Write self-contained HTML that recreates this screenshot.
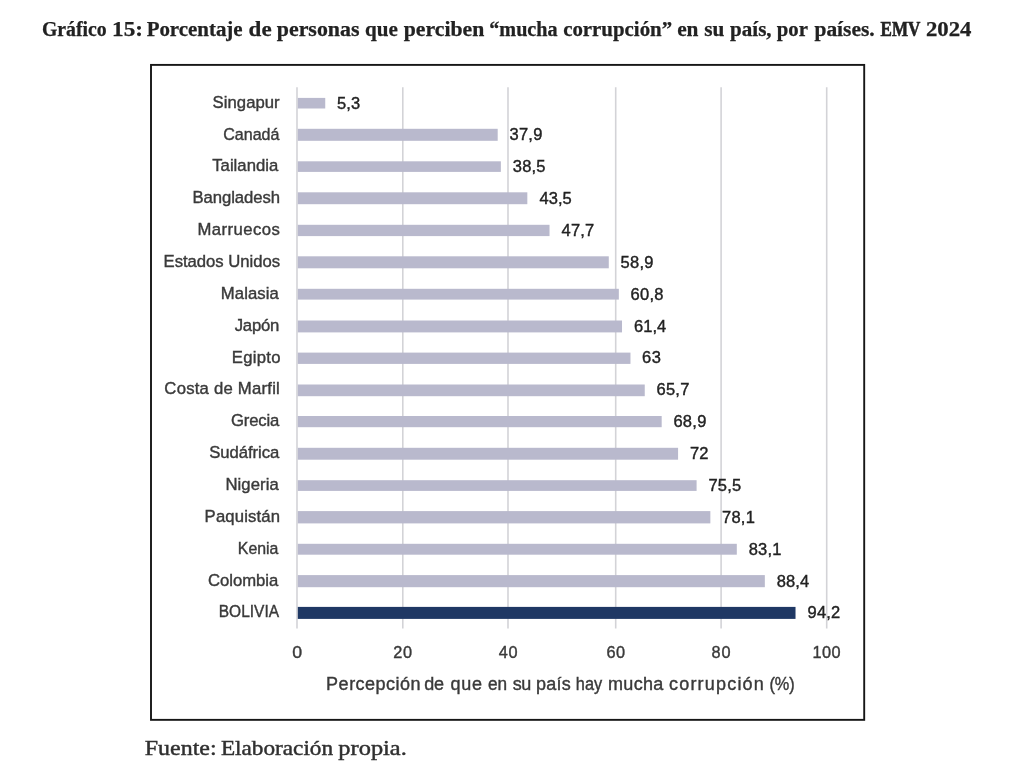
<!DOCTYPE html>
<html lang="es"><head><meta charset="utf-8"><title>Gráfico 15</title>
<style>html,body{margin:0;padding:0;background:#fff;}body{width:1024px;height:778px;overflow:hidden;font-family:"Liberation Sans",sans-serif;}svg{display:block;will-change:transform;}text{white-space:pre;}</style></head><body>
<svg width="1024" height="778" viewBox="0 0 1024 778">
<rect x="0" y="0" width="1024" height="778" fill="#ffffff"/>
<rect x="151" y="64.9" width="713.2" height="654.95" fill="#ffffff" stroke="#161616" stroke-width="1.9"/>
<line x1="297.00" y1="87.3" x2="297.00" y2="628.6" stroke="#d3d3d7" stroke-width="1.6"/>
<line x1="402.80" y1="87.3" x2="402.80" y2="628.6" stroke="#d3d3d7" stroke-width="1.6"/>
<line x1="508.00" y1="87.3" x2="508.00" y2="628.6" stroke="#d3d3d7" stroke-width="1.6"/>
<line x1="615.70" y1="87.3" x2="615.70" y2="628.6" stroke="#d3d3d7" stroke-width="1.6"/>
<line x1="721.10" y1="87.3" x2="721.10" y2="628.6" stroke="#d3d3d7" stroke-width="1.6"/>
<line x1="826.70" y1="87.3" x2="826.70" y2="628.6" stroke="#d3d3d7" stroke-width="1.6"/>
<rect x="297.80" y="97.90" width="27.44" height="10.60" fill="#b9b9cd"/>
<rect x="297.80" y="128.80" width="199.89" height="12.00" fill="#b9b9cd"/>
<rect x="297.80" y="161.30" width="203.06" height="10.60" fill="#b9b9cd"/>
<rect x="297.80" y="192.30" width="229.52" height="11.90" fill="#b9b9cd"/>
<rect x="297.80" y="224.80" width="251.73" height="11.30" fill="#b9b9cd"/>
<rect x="297.80" y="256.30" width="310.98" height="12.00" fill="#b9b9cd"/>
<rect x="297.80" y="288.80" width="321.03" height="10.80" fill="#b9b9cd"/>
<rect x="297.80" y="320.50" width="324.21" height="11.90" fill="#b9b9cd"/>
<rect x="297.80" y="352.60" width="332.67" height="11.30" fill="#b9b9cd"/>
<rect x="297.80" y="384.50" width="346.95" height="11.70" fill="#b9b9cd"/>
<rect x="297.80" y="416.00" width="363.88" height="11.20" fill="#b9b9cd"/>
<rect x="297.80" y="447.80" width="380.28" height="11.90" fill="#b9b9cd"/>
<rect x="297.80" y="480.20" width="398.80" height="10.70" fill="#b9b9cd"/>
<rect x="297.80" y="511.10" width="412.55" height="12.30" fill="#b9b9cd"/>
<rect x="297.80" y="543.80" width="439.00" height="10.90" fill="#b9b9cd"/>
<rect x="297.80" y="575.10" width="467.04" height="12.10" fill="#b9b9cd"/>
<rect x="297.80" y="606.90" width="497.72" height="12.00" fill="#1f3864"/>
<text id="c0" x="212.62" y="107.70" font-family="Liberation Sans" font-size="16.7" stroke="#3a3a3a" stroke-width="0.4" fill="#3a3a3a" textLength="66.98" lengthAdjust="spacing">Singapur</text>
<text id="v0" x="336.89" y="108.60" font-family="Liberation Sans" font-size="16.5" stroke="#222222" stroke-width="0.4" fill="#222222" textLength="23.41" lengthAdjust="spacing">5,3</text>
<text id="c1" x="223.21" y="139.56" font-family="Liberation Sans" font-size="16.7" stroke="#3a3a3a" stroke-width="0.4" fill="#3a3a3a" textLength="56.26" lengthAdjust="spacingAndGlyphs">Canadá</text>
<text id="v1" x="509.47" y="140.46" font-family="Liberation Sans" font-size="16.5" stroke="#222222" stroke-width="0.4" fill="#222222" textLength="32.86" lengthAdjust="spacing">37,9</text>
<text id="c2" x="212.21" y="171.42" font-family="Liberation Sans" font-size="16.7" stroke="#3a3a3a" stroke-width="0.4" fill="#3a3a3a" textLength="66.07" lengthAdjust="spacing">Tailandia</text>
<text id="v2" x="512.75" y="172.32" font-family="Liberation Sans" font-size="16.5" stroke="#222222" stroke-width="0.4" fill="#222222" textLength="32.78" lengthAdjust="spacing">38,5</text>
<text id="c3" x="192.44" y="203.28" font-family="Liberation Sans" font-size="16.7" stroke="#3a3a3a" stroke-width="0.4" fill="#3a3a3a" textLength="87.50" lengthAdjust="spacing">Bangladesh</text>
<text id="v3" x="539.49" y="204.18" font-family="Liberation Sans" font-size="16.5" stroke="#222222" stroke-width="0.4" fill="#222222" textLength="32.22" lengthAdjust="spacing">43,5</text>
<text id="c4" x="197.44" y="235.14" font-family="Liberation Sans" font-size="16.7" stroke="#3a3a3a" stroke-width="0.4" fill="#3a3a3a" textLength="82.42" lengthAdjust="spacing">Marruecos</text>
<text id="v4" x="561.60" y="236.04" font-family="Liberation Sans" font-size="16.5" stroke="#222222" stroke-width="0.4" fill="#222222" textLength="32.53" lengthAdjust="spacing">47,7</text>
<text id="c5" x="163.52" y="267.00" font-family="Liberation Sans" font-size="16.7" stroke="#3a3a3a" stroke-width="0.4" fill="#3a3a3a" textLength="116.52" lengthAdjust="spacing">Estados Unidos</text>
<text id="v5" x="620.54" y="267.90" font-family="Liberation Sans" font-size="16.5" stroke="#222222" stroke-width="0.4" fill="#222222" textLength="32.94" lengthAdjust="spacing">58,9</text>
<text id="c6" x="220.84" y="298.86" font-family="Liberation Sans" font-size="16.7" stroke="#3a3a3a" stroke-width="0.4" fill="#3a3a3a" textLength="57.94" lengthAdjust="spacing">Malasia</text>
<text id="v6" x="630.61" y="299.76" font-family="Liberation Sans" font-size="16.5" stroke="#222222" stroke-width="0.4" fill="#222222" textLength="32.85" lengthAdjust="spacing">60,8</text>
<text id="c7" x="234.76" y="330.72" font-family="Liberation Sans" font-size="16.7" stroke="#3a3a3a" stroke-width="0.4" fill="#3a3a3a" textLength="44.47" lengthAdjust="spacing">Japón</text>
<text id="v7" x="633.92" y="331.62" font-family="Liberation Sans" font-size="16.5" stroke="#222222" stroke-width="0.4" fill="#222222" textLength="32.34" lengthAdjust="spacing">61,4</text>
<text id="c8" x="231.84" y="362.58" font-family="Liberation Sans" font-size="16.7" stroke="#3a3a3a" stroke-width="0.4" fill="#3a3a3a" textLength="48.58" lengthAdjust="spacing">Egipto</text>
<text id="v8" x="642.03" y="363.48" font-family="Liberation Sans" font-size="16.5" stroke="#222222" stroke-width="0.4" fill="#222222" textLength="18.88" lengthAdjust="spacing">63</text>
<text id="c9" x="164.36" y="394.44" font-family="Liberation Sans" font-size="16.7" stroke="#3a3a3a" stroke-width="0.4" fill="#3a3a3a" textLength="115.43" lengthAdjust="spacing">Costa de Marfil</text>
<text id="v9" x="656.59" y="395.34" font-family="Liberation Sans" font-size="16.5" stroke="#222222" stroke-width="0.4" fill="#222222" textLength="32.75" lengthAdjust="spacing">65,7</text>
<text id="c10" x="231.07" y="426.30" font-family="Liberation Sans" font-size="16.7" stroke="#3a3a3a" stroke-width="0.4" fill="#3a3a3a" textLength="48.22" lengthAdjust="spacing">Grecia</text>
<text id="v10" x="673.41" y="427.20" font-family="Liberation Sans" font-size="16.5" stroke="#222222" stroke-width="0.4" fill="#222222" textLength="32.91" lengthAdjust="spacing">68,9</text>
<text id="c11" x="209.13" y="458.16" font-family="Liberation Sans" font-size="16.7" stroke="#3a3a3a" stroke-width="0.4" fill="#3a3a3a" textLength="70.15" lengthAdjust="spacing">Sudáfrica</text>
<text id="v11" x="690.04" y="459.06" font-family="Liberation Sans" font-size="16.5" stroke="#222222" stroke-width="0.4" fill="#222222" textLength="18.41" lengthAdjust="spacing">72</text>
<text id="c12" x="225.44" y="490.02" font-family="Liberation Sans" font-size="16.7" stroke="#3a3a3a" stroke-width="0.4" fill="#3a3a3a" textLength="53.33" lengthAdjust="spacing">Nigeria</text>
<text id="v12" x="708.39" y="490.92" font-family="Liberation Sans" font-size="16.5" stroke="#222222" stroke-width="0.4" fill="#222222" textLength="32.72" lengthAdjust="spacing">75,5</text>
<text id="c13" x="204.60" y="521.88" font-family="Liberation Sans" font-size="16.7" stroke="#3a3a3a" stroke-width="0.4" fill="#3a3a3a" textLength="75.34" lengthAdjust="spacing">Paquistán</text>
<text id="v13" x="722.10" y="522.78" font-family="Liberation Sans" font-size="16.5" stroke="#222222" stroke-width="0.4" fill="#222222" textLength="32.75" lengthAdjust="spacing">78,1</text>
<text id="c14" x="237.80" y="553.74" font-family="Liberation Sans" font-size="16.7" stroke="#3a3a3a" stroke-width="0.4" fill="#3a3a3a" textLength="40.60" lengthAdjust="spacingAndGlyphs">Kenia</text>
<text id="v14" x="748.69" y="554.64" font-family="Liberation Sans" font-size="16.5" stroke="#222222" stroke-width="0.4" fill="#222222" textLength="32.70" lengthAdjust="spacing">83,1</text>
<text id="c15" x="207.92" y="585.60" font-family="Liberation Sans" font-size="16.7" stroke="#3a3a3a" stroke-width="0.4" fill="#3a3a3a" textLength="70.35" lengthAdjust="spacing">Colombia</text>
<text id="v15" x="776.79" y="586.50" font-family="Liberation Sans" font-size="16.5" stroke="#222222" stroke-width="0.4" fill="#222222" textLength="32.39" lengthAdjust="spacing">88,4</text>
<text id="c16" x="218.77" y="617.46" font-family="Liberation Sans" font-size="16.7" stroke="#3a3a3a" stroke-width="0.4" fill="#3a3a3a" textLength="60.30" lengthAdjust="spacingAndGlyphs">BOLIVIA</text>
<text id="v16" x="807.58" y="618.36" font-family="Liberation Sans" font-size="16.5" stroke="#222222" stroke-width="0.4" fill="#222222" textLength="32.54" lengthAdjust="spacing">94,2</text>
<text id="t0" x="292.24" y="657.80" font-family="Liberation Sans" font-size="16.3" stroke="#3a3a3a" stroke-width="0.4" fill="#3a3a3a" textLength="9.85" lengthAdjust="spacingAndGlyphs">0</text>
<text id="t1" x="393.17" y="657.80" font-family="Liberation Sans" font-size="16.3" stroke="#3a3a3a" stroke-width="0.4" fill="#3a3a3a" textLength="18.99" lengthAdjust="spacing">20</text>
<text id="t2" x="498.85" y="657.80" font-family="Liberation Sans" font-size="16.3" stroke="#3a3a3a" stroke-width="0.4" fill="#3a3a3a" textLength="18.65" lengthAdjust="spacing">40</text>
<text id="t3" x="606.38" y="657.80" font-family="Liberation Sans" font-size="16.3" stroke="#3a3a3a" stroke-width="0.4" fill="#3a3a3a" textLength="18.66" lengthAdjust="spacing">60</text>
<text id="t4" x="711.59" y="657.80" font-family="Liberation Sans" font-size="16.3" stroke="#3a3a3a" stroke-width="0.4" fill="#3a3a3a" textLength="18.98" lengthAdjust="spacing">80</text>
<text id="t5" x="812.57" y="657.80" font-family="Liberation Sans" font-size="16.3" stroke="#3a3a3a" stroke-width="0.4" fill="#3a3a3a" textLength="28.01" lengthAdjust="spacing">100</text>
<text id="a0" x="326.12" y="689.80" font-family="Liberation Sans" font-size="18" stroke="#3a3a3a" stroke-width="0.4" fill="#3a3a3a" textLength="94.49" lengthAdjust="spacing">Percepción</text>
<text id="a1" x="424.31" y="689.80" font-family="Liberation Sans" font-size="18" stroke="#3a3a3a" stroke-width="0.4" fill="#3a3a3a" textLength="19.83" lengthAdjust="spacing">de</text>
<text id="a2" x="450.59" y="689.80" font-family="Liberation Sans" font-size="18" stroke="#3a3a3a" stroke-width="0.4" fill="#3a3a3a" textLength="31.33" lengthAdjust="spacing">que</text>
<text id="a3" x="488.00" y="689.80" font-family="Liberation Sans" font-size="18" stroke="#3a3a3a" stroke-width="0.4" fill="#3a3a3a" textLength="19.16" lengthAdjust="spacingAndGlyphs">en</text>
<text id="a4" x="512.67" y="689.80" font-family="Liberation Sans" font-size="18" stroke="#3a3a3a" stroke-width="0.4" fill="#3a3a3a" textLength="18.63" lengthAdjust="spacing">su</text>
<text id="a5" x="535.93" y="689.80" font-family="Liberation Sans" font-size="18" stroke="#3a3a3a" stroke-width="0.4" fill="#3a3a3a" textLength="34.79" lengthAdjust="spacing">país</text>
<text id="a6" x="575.84" y="689.80" font-family="Liberation Sans" font-size="18" stroke="#3a3a3a" stroke-width="0.4" fill="#3a3a3a" textLength="26.31" lengthAdjust="spacingAndGlyphs">hay</text>
<text id="a7" x="607.88" y="689.80" font-family="Liberation Sans" font-size="18" stroke="#3a3a3a" stroke-width="0.4" fill="#3a3a3a" textLength="55.51" lengthAdjust="spacing">mucha</text>
<text id="a8" x="669.02" y="689.80" font-family="Liberation Sans" font-size="18" stroke="#3a3a3a" stroke-width="0.4" fill="#3a3a3a" textLength="94.82" lengthAdjust="spacing">corrupción</text>
<text id="a9" x="769.38" y="689.80" font-family="Liberation Sans" font-size="18" stroke="#3a3a3a" stroke-width="0.4" fill="#3a3a3a" textLength="25.35" lengthAdjust="spacingAndGlyphs">(%)</text>
<text id="h0" x="41.94" y="36.00" font-family="Liberation Serif" font-size="19.9" font-weight="bold" stroke="#222222" stroke-width="0.25" fill="#222222" textLength="64.79" lengthAdjust="spacingAndGlyphs">Gráfico</text>
<text id="h1" x="112.04" y="36.00" font-family="Liberation Serif" font-size="19.9" font-weight="bold" stroke="#222222" stroke-width="0.25" fill="#222222" textLength="30.92" lengthAdjust="spacingAndGlyphs">15:</text>
<text id="h2" x="146.67" y="36.00" font-family="Liberation Serif" font-size="19.9" font-weight="bold" stroke="#222222" stroke-width="0.25" fill="#222222" textLength="95.95" lengthAdjust="spacingAndGlyphs">Porcentaje</text>
<text id="h3" x="248.63" y="36.00" font-family="Liberation Serif" font-size="19.9" font-weight="bold" stroke="#222222" stroke-width="0.25" fill="#222222" textLength="23.02" lengthAdjust="spacingAndGlyphs">de</text>
<text id="h4" x="276.79" y="36.00" font-family="Liberation Serif" font-size="19.9" font-weight="bold" stroke="#222222" stroke-width="0.25" fill="#222222" textLength="82.65" lengthAdjust="spacingAndGlyphs">personas</text>
<text id="h5" x="364.99" y="36.00" font-family="Liberation Serif" font-size="19.9" font-weight="bold" stroke="#222222" stroke-width="0.25" fill="#222222" textLength="32.79" lengthAdjust="spacingAndGlyphs">que</text>
<text id="h6" x="403.79" y="36.00" font-family="Liberation Serif" font-size="19.9" font-weight="bold" stroke="#222222" stroke-width="0.25" fill="#222222" textLength="80.44" lengthAdjust="spacingAndGlyphs">perciben</text>
<text id="h7" x="489.26" y="36.00" font-family="Liberation Serif" font-size="19.9" font-weight="bold" stroke="#222222" stroke-width="0.25" fill="#222222" textLength="68.37" lengthAdjust="spacingAndGlyphs">“mucha</text>
<text id="h8" x="563.16" y="36.00" font-family="Liberation Serif" font-size="19.9" font-weight="bold" stroke="#222222" stroke-width="0.25" fill="#222222" textLength="108.95" lengthAdjust="spacingAndGlyphs">corrupción”</text>
<text id="h9" x="677.16" y="36.00" font-family="Liberation Serif" font-size="19.9" font-weight="bold" stroke="#222222" stroke-width="0.25" fill="#222222" textLength="21.34" lengthAdjust="spacingAndGlyphs">en</text>
<text id="h10" x="704.29" y="36.00" font-family="Liberation Serif" font-size="19.9" font-weight="bold" stroke="#222222" stroke-width="0.25" fill="#222222" textLength="20.09" lengthAdjust="spacingAndGlyphs">su</text>
<text id="h11" x="730.07" y="36.00" font-family="Liberation Serif" font-size="19.9" font-weight="bold" stroke="#222222" stroke-width="0.25" fill="#222222" textLength="41.54" lengthAdjust="spacingAndGlyphs">país,</text>
<text id="h12" x="776.77" y="36.00" font-family="Liberation Serif" font-size="19.9" font-weight="bold" stroke="#222222" stroke-width="0.25" fill="#222222" textLength="31.15" lengthAdjust="spacingAndGlyphs">por</text>
<text id="h13" x="814.46" y="36.00" font-family="Liberation Serif" font-size="19.9" font-weight="bold" stroke="#222222" stroke-width="0.25" fill="#222222" textLength="60.21" lengthAdjust="spacingAndGlyphs">países.</text>
<text id="h14" x="880.62" y="36.00" font-family="Liberation Serif" font-size="19.9" font-weight="bold" stroke="#222222" stroke-width="0.6" fill="#222222" textLength="39.79" lengthAdjust="spacingAndGlyphs">EMV</text>
<text id="h15" x="925.98" y="36.00" font-family="Liberation Serif" font-size="19.9" font-weight="bold" stroke="#222222" stroke-width="0.25" fill="#222222" textLength="45.54" lengthAdjust="spacingAndGlyphs">2024</text>
<text id="f0" x="144.84" y="754.90" font-family="Liberation Serif" font-size="21.5" stroke="#303030" stroke-width="0.45" fill="#303030" textLength="71.73" lengthAdjust="spacingAndGlyphs">Fuente:</text>
<text id="f1" x="220.91" y="754.90" font-family="Liberation Serif" font-size="21.5" stroke="#303030" stroke-width="0.45" fill="#303030" textLength="112.19" lengthAdjust="spacingAndGlyphs">Elaboración</text>
<text id="f2" x="338.36" y="754.90" font-family="Liberation Serif" font-size="21.5" stroke="#303030" stroke-width="0.45" fill="#303030" textLength="68.44" lengthAdjust="spacingAndGlyphs">propia.</text>
</svg></body></html>
